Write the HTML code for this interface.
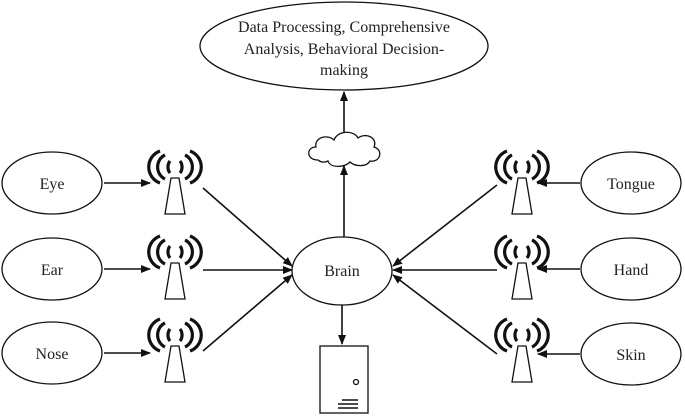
<!DOCTYPE html>
<html><head><meta charset="utf-8"><style>
html,body{margin:0;padding:0;background:#fff}
svg{display:block}
svg text{font-family:"Liberation Serif","Times New Roman","DejaVu Serif",serif !important}
</style></head><body>
<svg width="685" height="416" viewBox="0 0 685 416" xmlns="http://www.w3.org/2000/svg">
<defs>
<marker id="a" markerWidth="10" markerHeight="8" refX="9" refY="4" orient="auto" markerUnits="userSpaceOnUse">
<path d="M0,0 L10,4 L0,8 Z" fill="#111"/></marker>
<g id="ant" fill="none" stroke="#111">
<path d="M-4,28 L4,28 L10,64 L-10,64 Z" stroke-width="1.3" fill="#fff"/>
<g stroke-width="3.2">
<path d="M-5,11 A6,8 0 0 0 -5,23"/><path d="M5,11 A6,8 0 0 1 5,23"/>
<path d="M-10,5 A12,13 0 0 0 -10,29"/><path d="M10,5 A12,13 0 0 1 10,29"/>
<path d="M-15,1 A17,17 0 0 0 -15,33"/><path d="M15,1 A17,17 0 0 1 15,33"/>
</g></g>
</defs>
<g fill="none" stroke="#111" stroke-width="1.3">
<ellipse cx="344" cy="46" rx="144" ry="44"/>
<ellipse cx="342" cy="271" rx="50" ry="34"/>
<ellipse cx="52" cy="183" rx="50" ry="31"/>
<ellipse cx="52" cy="269" rx="50" ry="31"/>
<ellipse cx="52" cy="353" rx="50" ry="31"/>
<ellipse cx="631" cy="183" rx="50" ry="31"/>
<ellipse cx="631" cy="269" rx="50" ry="31"/>
<ellipse cx="631" cy="354" rx="50" ry="31"/>
<path d="M318,160 C306,160 306,147 316,147 C314,137 328,134 334,140 C338,130 354,130 358,138 C366,132 378,138 374,147 C384,150 380,163 370,161 C366,168 354,166 350,162 C344,168 330,168 328,161 C324,163 320,162 318,160 Z" fill="#fff"/>
<rect x="320" y="346" width="48" height="67" fill="#fff"/>
<circle cx="356" cy="382" r="2.5"/>
</g>
<g stroke="#111" stroke-width="1.5">
<line x1="342" y1="400" x2="358" y2="400"/><line x1="338" y1="404" x2="358" y2="404"/><line x1="338" y1="408" x2="358" y2="408"/>
</g>
<g stroke="#111" stroke-width="1.6" marker-end="url(#a)">
<line x1="344" y1="132" x2="344" y2="92"/>
<line x1="344" y1="237" x2="344" y2="166"/>
<line x1="342" y1="305" x2="342" y2="344"/>
<line x1="104" y1="183" x2="150" y2="183"/>
<line x1="104" y1="269" x2="150" y2="269"/>
<line x1="104" y1="353" x2="150" y2="353"/>
<line x1="580" y1="183" x2="538" y2="183"/>
<line x1="580" y1="269" x2="538" y2="269"/>
<line x1="580" y1="354" x2="538" y2="354"/>
<line x1="203" y1="188" x2="292" y2="266"/>
<line x1="203" y1="270" x2="292" y2="270"/>
<line x1="203" y1="351" x2="292" y2="275"/>
<line x1="497" y1="185" x2="393" y2="266"/>
<line x1="497" y1="270" x2="393" y2="270"/>
<line x1="497" y1="354" x2="393" y2="275"/>
</g>
<use href="#ant" x="175" y="150"/>
<use href="#ant" x="175" y="235"/>
<use href="#ant" x="175" y="318"/>
<use href="#ant" x="522" y="150"/>
<use href="#ant" x="522" y="235"/>
<use href="#ant" x="522" y="318"/>
<g style="font-family:'Liberation Serif',serif" font-size="16" text-anchor="middle" fill="#222">
<text x="344" y="32">Data Processing, Comprehensive</text>
<text x="344" y="54">Analysis, Behavioral Decision-</text>
<text x="344" y="75">making</text>
<text x="342" y="276">Brain</text>
<text x="52" y="189">Eye</text>
<text x="52" y="275">Ear</text>
<text x="52" y="359">Nose</text>
<text x="631" y="189">Tongue</text>
<text x="631" y="275">Hand</text>
<text x="631" y="360">Skin</text>
</g>
</svg>
</body></html>
